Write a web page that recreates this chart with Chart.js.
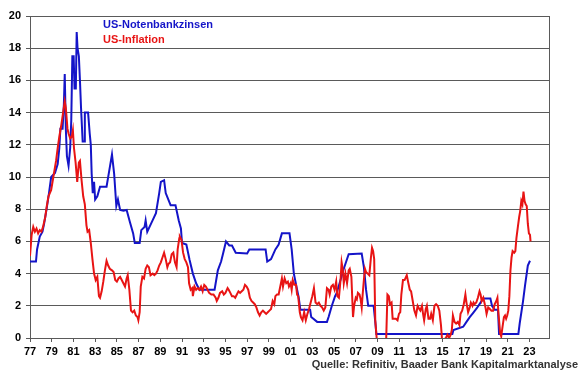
<!DOCTYPE html>
<html lang="de">
<head>
    <meta charset="UTF-8">
    <title>US-Notenbankzinsen und US-Inflation</title>
    <script src="https://cdn.jsdelivr.net/npm/chart.js"></script>
    <style>
        body { margin: 0; background: #fff; }
        canvas { display: block; }
    </style>
</head>
<body>
    <canvas id="chart" width="580" height="376"></canvas>

    <script>
        // Fed-Zinsen (blau): Datum als Dezimaljahr, Wert in %
        const fedDates = [
            1977.0, 1977.55, 1977.65, 1977.9, 1978.15, 1978.3, 1978.5, 1978.75, 1978.95, 1979.3,
            1979.55, 1979.7, 1979.8, 1980.0, 1980.12, 1980.2, 1980.3, 1980.4, 1980.55, 1980.7,
            1980.8, 1980.9, 1981.02, 1981.1, 1981.22, 1981.3, 1981.38, 1981.5, 1981.6, 1981.7,
            1981.85, 1982.0, 1982.05, 1982.35, 1982.5, 1982.6, 1982.68, 1982.78, 1982.9, 1983.0,
            1983.2, 1983.45, 1984.05, 1984.35, 1984.55, 1984.75, 1984.95, 1985.1, 1985.3, 1985.6,
            1985.9, 1986.2, 1986.5, 1986.65, 1987.1, 1987.25, 1987.55, 1987.65, 1987.8, 1988.15,
            1988.6, 1988.9, 1989.05, 1989.35, 1989.5, 1989.95, 1990.4, 1990.7, 1990.9, 1991.0,
            1991.4, 1991.7, 1992.0, 1992.3, 1992.6, 1994.0, 1994.3, 1994.6, 1994.8, 1995.05,
            1995.35, 1995.6, 1995.95, 1997.0, 1997.2, 1998.7, 1998.85, 1999.2, 1999.6, 1999.9,
            2000.2, 2000.9, 2001.1, 2001.3, 2001.6, 2001.75, 2001.9, 2002.8, 2002.9, 2003.45,
            2004.35, 2004.5, 2004.8, 2005.1, 2005.25, 2005.9, 2006.35, 2007.55, 2007.75, 2007.95,
            2008.15, 2008.65, 2008.8, 2008.9, 2015.9, 2016.0, 2016.9, 2017.2, 2017.5, 2017.8,
            2018.15, 2018.45, 2018.75, 2019.4, 2019.55, 2019.8, 2020.1, 2020.2, 2021.98, 2022.1,
            2022.4, 2022.6, 2022.85, 2023.05
        ];
        const fedRate = [
            4.75, 4.75, 5.5, 6.3, 6.6, 7.1, 7.9, 9.0, 10.0, 10.25,
            10.8, 11.8, 13.0, 13.0, 14.5, 16.4, 13.0, 11.3, 10.7, 11.8,
            13.5, 17.5, 17.5, 15.5, 15.5, 19.0, 18.0, 17.5, 16.0, 14.3,
            12.2, 12.2, 14.0, 14.0, 12.7, 12.0, 10.2, 9.0, 9.7, 8.6,
            8.8, 9.4, 9.4, 10.6, 11.4, 10.2, 8.2, 8.6, 7.95, 7.9,
            7.95, 7.2, 6.5, 5.9, 5.9, 6.7, 6.9, 7.3, 6.6, 7.1,
            7.75, 9.0, 9.7, 9.8, 9.0, 8.25, 8.25, 7.3, 6.8, 5.9,
            5.8, 4.85, 4.0, 3.4, 3.0, 3.0, 4.2, 4.75, 5.3, 6.0,
            5.75, 5.75, 5.3, 5.25, 5.5, 5.5, 4.75, 4.9, 5.5, 5.8,
            6.5, 6.5, 5.5, 4.0, 3.0, 2.5, 1.75, 1.75, 1.3, 1.0,
            1.0, 1.3, 2.0, 2.6, 2.8, 4.3, 5.2, 5.25, 4.4, 3.0,
            2.0, 2.0, 1.0, 0.25, 0.25, 0.5, 0.7, 1.0, 1.3, 1.55,
            1.85, 2.15, 2.46, 2.46, 2.0, 1.75, 1.75, 0.25, 0.25, 0.9,
            2.25, 3.3, 4.5, 4.8
        ];

        // Inflation (rot): Datum als Dezimaljahr, Wert in %
        const cpiDates = [
            1977.0, 1977.15, 1977.3, 1977.45, 1977.6, 1977.75, 1977.9, 1978.05, 1978.2, 1978.4,
            1978.55, 1978.7, 1978.95, 1979.15, 1979.4, 1979.55, 1979.7, 1979.9, 1980.05, 1980.2,
            1980.3, 1980.45, 1980.55, 1980.7, 1980.85, 1980.95, 1981.05, 1981.2, 1981.35, 1981.5,
            1981.6, 1981.75, 1981.9, 1982.05, 1982.2, 1982.3, 1982.45, 1982.6, 1982.75, 1982.9,
            1983.05, 1983.2, 1983.35, 1983.45, 1983.6, 1983.75, 1983.9, 1984.05, 1984.2, 1984.35,
            1984.55, 1984.7, 1984.85, 1985.0, 1985.15, 1985.3, 1985.45, 1985.6, 1985.75, 1985.9,
            1986.0, 1986.15, 1986.3, 1986.45, 1986.6, 1986.75, 1986.9, 1986.98, 1987.1, 1987.2,
            1987.35, 1987.5, 1987.65, 1987.8, 1987.95, 1988.1, 1988.3, 1988.45, 1988.6, 1988.75,
            1988.9, 1989.05, 1989.2, 1989.35, 1989.5, 1989.65, 1989.75, 1989.9, 1990.05, 1990.2,
            1990.35, 1990.5, 1990.6, 1990.75, 1990.8, 1990.95, 1991.1, 1991.25, 1991.4, 1991.55,
            1991.65, 1991.8, 1991.95, 1992.0, 1992.15, 1992.3, 1992.45, 1992.6, 1992.75, 1992.9,
            1993.05, 1993.2, 1993.35, 1993.5, 1993.7, 1993.9, 1994.1, 1994.2, 1994.35, 1994.5,
            1994.7, 1994.85, 1995.0, 1995.2, 1995.3, 1995.45, 1995.6, 1995.75, 1995.9, 1996.05,
            1996.2, 1996.35, 1996.5, 1996.65, 1996.8, 1996.95, 1997.1, 1997.25, 1997.4, 1997.55,
            1997.7, 1997.85, 1998.0, 1998.15, 1998.3, 1998.45, 1998.6, 1998.75, 1998.9, 1999.05,
            1999.2, 1999.35, 1999.5, 1999.6, 1999.75, 1999.9, 2000.05, 2000.2, 2000.3, 2000.45,
            2000.6, 2000.75, 2000.85, 2001.0, 2001.1, 2001.2, 2001.35, 2001.5, 2001.6, 2001.7,
            2001.85, 2001.95, 2002.1, 2002.25, 2002.4, 2002.55, 2002.7, 2002.85, 2003.0, 2003.15,
            2003.3, 2003.45, 2003.6, 2003.75, 2003.9, 2004.05, 2004.2, 2004.35, 2004.5, 2004.6,
            2004.75, 2004.9, 2005.05, 2005.2, 2005.3, 2005.45, 2005.6, 2005.7, 2005.8, 2005.9,
            2006.05, 2006.2, 2006.35, 2006.45, 2006.6, 2006.75, 2006.85, 2007.0, 2007.1, 2007.2,
            2007.35, 2007.45, 2007.55, 2007.65, 2007.75, 2007.85, 2007.95, 2008.1, 2008.25, 2008.4,
            2008.5, 2008.6, 2008.7, 2008.8, 2008.95, 2009.2, 2009.45, 2009.65, 2009.8, 2009.92,
            2010.05, 2010.15, 2010.3, 2010.4, 2010.55, 2010.7, 2010.85, 2010.98, 2011.1, 2011.2,
            2011.35, 2011.5, 2011.7, 2011.85, 2011.98, 2012.1, 2012.25, 2012.4, 2012.55, 2012.7,
            2012.85, 2012.95, 2013.1, 2013.2, 2013.3, 2013.45, 2013.55, 2013.7, 2013.85, 2013.95,
            2014.1, 2014.25, 2014.4, 2014.55, 2014.7, 2014.85, 2014.95, 2015.1, 2015.3, 2015.45,
            2015.6, 2015.75, 2015.85, 2015.95, 2016.1, 2016.25, 2016.4, 2016.55, 2016.65, 2016.8,
            2016.95, 2017.1, 2017.2, 2017.35, 2017.5, 2017.6, 2017.75, 2017.85, 2017.95, 2018.1,
            2018.25, 2018.4, 2018.5, 2018.6, 2018.75, 2018.85, 2018.95, 2019.05, 2019.2, 2019.35,
            2019.5, 2019.65, 2019.8, 2019.95, 2020.05, 2020.15, 2020.3, 2020.4, 2020.5, 2020.65,
            2020.75, 2020.85, 2020.95, 2021.05, 2021.15, 2021.25, 2021.35, 2021.45, 2021.6, 2021.7,
            2021.8, 2021.95, 2022.05, 2022.15, 2022.25, 2022.35, 2022.45, 2022.55, 2022.65, 2022.75,
            2022.85, 2022.95, 2023.05, 2023.1
        ];
        const cpiRate = [
            5.1, 6.4, 6.9, 6.6, 6.8, 6.5, 6.7, 6.6, 6.9, 7.5,
            8.2, 8.8, 9.2, 10.0, 11.0, 11.8, 12.5, 13.3, 14.0, 14.7,
            14.3, 13.0, 12.7, 12.4, 12.5, 12.9, 11.8, 10.9, 9.7, 10.9,
            11.0, 9.8, 8.8, 8.3, 7.0, 6.6, 6.7, 5.9, 4.9, 4.0,
            3.6, 3.8, 2.6, 2.5, 2.9, 3.5, 4.2, 4.8, 4.5, 4.3,
            4.2, 4.1, 3.6, 3.5, 3.7, 3.8, 3.6, 3.4, 3.2, 3.7,
            3.9, 3.0, 1.7, 1.6, 1.7, 1.4, 1.3, 1.1, 1.6, 3.2,
            3.8, 3.7, 4.3, 4.5, 4.4, 3.9, 4.0, 3.9, 4.0, 4.2,
            4.5, 4.7, 5.0, 5.3, 4.9, 4.4, 4.6, 4.7, 5.2, 5.3,
            4.7, 4.4, 5.5, 6.2, 6.3, 6.1, 5.3, 4.9, 4.7, 4.4,
            3.4, 3.0, 3.1, 2.6, 3.2, 3.0, 3.1, 3.0, 3.2, 2.9,
            3.3, 3.2, 3.0, 2.8, 2.7, 2.7, 2.5, 2.3, 2.5, 2.8,
            2.9, 2.7, 2.8, 3.1, 3.0, 2.8, 2.6, 2.6, 2.5, 2.7,
            2.9, 2.8, 2.9, 3.0, 3.3, 3.2, 3.0, 2.5, 2.3, 2.2,
            2.1, 1.9, 1.6, 1.4, 1.6, 1.7, 1.6, 1.5, 1.6, 1.7,
            1.8, 2.3, 2.1, 2.6, 2.7, 2.7, 3.2, 3.7, 3.2, 3.7,
            3.4, 3.5, 3.2, 3.4, 3.0, 3.6, 3.3, 3.3, 2.7, 2.6,
            1.6, 1.3, 1.1, 1.6, 1.1, 1.5, 1.8, 2.2, 2.6, 3.1,
            2.2, 2.1, 2.2, 2.0, 1.9, 1.7, 1.9, 3.1, 3.0, 2.7,
            3.2, 3.3, 3.0, 3.5, 2.6, 2.5, 3.6, 4.7, 4.3, 3.4,
            4.0, 3.4, 4.2, 4.3, 3.8, 1.3, 2.0, 2.5, 2.4, 2.8,
            2.7, 2.4, 1.9, 2.8, 3.6, 4.3, 4.1, 4.0, 3.9, 5.0,
            5.6, 5.4, 4.9, 1.1, -0.2, -0.7, -1.4, -1.3, -0.2, 2.7,
            2.6, 2.1, 2.2, 1.2, 1.2, 1.2, 1.1, 1.5, 1.6, 2.7,
            3.6, 3.6, 3.9, 3.4, 3.0, 2.9, 2.3, 1.7, 1.4, 2.0,
            1.8, 1.7, 2.0, 1.5, 1.1, 1.8, 2.0, 1.2, 1.2, 1.5,
            1.1, 2.0, 2.1, 2.0, 1.7, 0.8, -0.1, -0.1, 0.0, 0.2,
            0.0, 0.2, 0.5, 1.4, 1.0, 0.9, 1.0, 0.8, 1.5, 1.7,
            2.1, 2.7, 2.2, 1.6, 1.9, 2.2, 2.0, 2.2, 2.1, 2.2,
            2.5, 2.9, 2.7, 2.3, 2.5, 2.2, 1.9, 1.5, 1.9, 1.8,
            1.7, 1.7, 2.1, 2.3, 2.5, 1.5, 0.3, 0.1, 0.6, 1.3,
            1.4, 1.2, 1.4, 1.7, 2.6, 4.2, 5.0, 5.4, 5.3, 5.4,
            6.2, 7.0, 7.5, 7.9, 8.5, 8.3, 9.1, 8.5, 8.3, 8.2,
            7.1, 6.5, 6.4, 6.0
        ];

        const xTickYears = [1977, 1979, 1981, 1983, 1985, 1987, 1989, 1991, 1993, 1995, 1997, 1999,
            2001, 2003, 2005, 2007, 2009, 2011, 2013, 2015, 2017, 2019, 2021, 2023];
        const seriesNames = ['US-Notenbankzinsen', 'US-Inflation'];
        const sourceText = 'Quelle: Refinitiv, Baader Bank Kapitalmarktanalyse';

        const blue = '#1414c8';
        const red = '#e81414';
        const gridColor = '#5a5a5a';
        const fontFamily = '"Liberation Sans", Arial, sans-serif';

        function toPoints(dates, values) {
            return dates.map((d, i) => ({ x: d, y: values[i] }));
        }

        // Legende im Diagramm, rechter Rahmen und Quellenangabe
        const extras = {
            id: 'extras',
            afterDraw(chart) {
                const ctx = chart.ctx;
                const area = chart.chartArea;
                ctx.save();
                ctx.strokeStyle = gridColor;
                ctx.lineWidth = 1;
                ctx.beginPath();
                ctx.moveTo(Math.round(area.right) + 0.5, area.top);
                ctx.lineTo(Math.round(area.right) + 0.5, area.bottom);
                ctx.stroke();

                ctx.font = 'bold 11px ' + fontFamily;
                ctx.textBaseline = 'middle';
                ctx.textAlign = 'left';
                ctx.fillStyle = blue;
                ctx.fillText(seriesNames[0], 103, 25);
                ctx.fillStyle = red;
                ctx.fillText(seriesNames[1], 103, 40);

                ctx.textAlign = 'right';
                ctx.fillStyle = '#333';
                ctx.fillText(sourceText, 578, 365);
                ctx.restore();
            }
        };

        new Chart(document.getElementById('chart'), {
            type: 'line',
            data: {
                datasets: [
                    {
                        label: seriesNames[0],
                        data: toPoints(fedDates, fedRate),
                        borderColor: blue,
                        borderWidth: 2,
                        pointRadius: 0,
                        order: 1
                    },
                    {
                        label: seriesNames[1],
                        data: toPoints(cpiDates, cpiRate),
                        borderColor: red,
                        borderWidth: 2,
                        pointRadius: 0,
                        order: 0
                    }
                ]
            },
            options: {
                responsive: false,
                animation: false,
                layout: { padding: { top: 16, right: 31, left: 0, bottom: 0 } },
                plugins: {
                    legend: { display: false },
                    tooltip: { enabled: false }
                },
                scales: {
                    x: {
                        type: 'linear',
                        min: 1977,
                        max: 2024.8,
                        afterBuildTicks: scale => {
                            scale.ticks = xTickYears.map(v => ({ value: v }));
                        },
                        afterFit: scale => { scale.height = 38; },
                        grid: { drawOnChartArea: false, drawTicks: true, tickLength: 4, color: gridColor },
                        border: { color: gridColor },
                        ticks: {
                            autoSkip: false,
                            maxRotation: 0,
                            padding: 3,
                            color: '#000',
                            font: { family: fontFamily, size: 11, weight: 'bold' },
                            callback: v => String(v).slice(2)
                        }
                    },
                    y: {
                        min: 0,
                        max: 20,
                        afterFit: scale => { scale.width = 30; },
                        grid: { color: gridColor, tickLength: 4 },
                        border: { color: gridColor },
                        ticks: {
                            stepSize: 2,
                            padding: 5,
                            color: '#000',
                            font: { family: fontFamily, size: 11, weight: 'bold' }
                        }
                    }
                }
            },
            plugins: [extras]
        });
    </script>
